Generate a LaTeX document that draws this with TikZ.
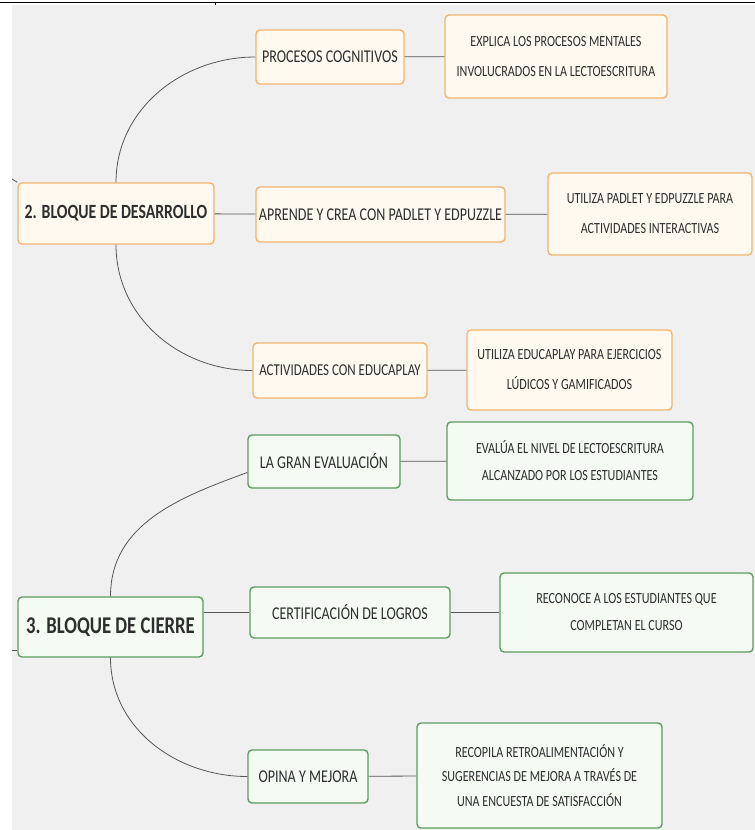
\documentclass[tikz,border=0pt]{standalone}
\usepackage{fontspec}
\setmainfont[FakeStretch=0.78]{Carlito}
\usepackage{tikz}
\usetikzlibrary{positioning}
\usepackage{xcolor}
\definecolor{fondomapa}{HTML}{F0F0F0}
\definecolor{naranja}{HTML}{F2B46E}
\definecolor{crema}{HTML}{FFF9EF}
\definecolor{verde}{HTML}{5E9B62}
\definecolor{verdeclaro}{HTML}{F3FBF3}
\definecolor{texto}{HTML}{2E2E2E}
\definecolor{lineagris}{HTML}{555555}

\begin{document}
\begin{tikzpicture}[x=1pt, y=-1pt,
    caja/.style={draw, rounded corners=4pt, line width=1.4pt, text=texto, align=center, inner sep=0pt},
    desarrollo/.style={caja, draw=naranja, fill=crema},
    cierre/.style={caja, draw=verde, fill=verdeclaro},
    raiz/.style={font=\bfseries\fontsize{20.2}{24}\selectfont},
    tema/.style={font=\fontsize{18}{22}\selectfont},
    detalle/.style={font=\fontsize{15.5}{30}\selectfont},
    detalleverde/.style={font=\fontsize{15.5}{27}\selectfont},
    enlace/.style={draw=lineagris, line width=0.8pt}]
    \useasboundingbox (0,0) rectangle (755,830);
    \fill[white] (0,0) rectangle (755,830);
    \fill[fondomapa] (12,5) rectangle (755,830);
    \draw[line width=1pt] (0,2.5) -- (755,2.5);
    \draw[line width=1pt] (215,2.5) -- (215,5);

    \node[desarrollo, raiz, minimum width=196, minimum height=61] (d2) at (116,213.5) {2. BLOQUE DE DESARROLLO};
    \node[desarrollo, tema, minimum width=148, minimum height=54] (pc) at (330,57) {PROCESOS COGNITIVOS};
    \node[desarrollo, detalle, minimum width=222, minimum height=83] (pcx) at (556,56.5) {EXPLICA LOS PROCESOS MENTALES\\INVOLUCRADOS EN LA LECTOESCRITURA};
    \node[desarrollo, tema, minimum width=249, minimum height=55] (apr) at (380.5,214.5) {APRENDE Y CREA CON PADLET Y EDPUZZLE};
    \node[desarrollo, detalle, minimum width=204, minimum height=82] (aprx) at (650,214) {UTILIZA PADLET Y EDPUZZLE PARA\\ACTIVIDADES INTERACTIVAS};
    \node[desarrollo, tema, font=\fontsize{16.6}{20}\selectfont, minimum width=174, minimum height=55] (act) at (340,370.5) {ACTIVIDADES CON EDUCAPLAY};
    \node[desarrollo, detalle, minimum width=205, minimum height=80] (actx) at (569.5,370) {UTILIZA EDUCAPLAY PARA EJERCICIOS\\LÚDICOS Y GAMIFICADOS};

    \node[cierre, raiz, font=\bfseries\fontsize{24}{28}\selectfont, minimum width=185, minimum height=60] (c3) at (110.5,627) {3. BLOQUE DE CIERRE};
    \node[cierre, tema, minimum width=152, minimum height=53] (eva) at (324,461.5) {LA GRAN EVALUACIÓN};
    \node[cierre, detalleverde, minimum width=246, minimum height=78] (evax) at (570,461) {EVALÚA EL NIVEL DE LECTOESCRITURA\\ALCANZADO POR LOS ESTUDIANTES};
    \node[cierre, tema, minimum width=200, minimum height=51] (cer) at (350,612.5) {CERTIFICACIÓN DE LOGROS};
    \node[cierre, detalleverde, minimum width=253, minimum height=79] (cerx) at (626.5,612.5) {RECONOCE A LOS ESTUDIANTES QUE\\COMPLETAN EL CURSO};
    \node[cierre, tema, minimum width=120, minimum height=53] (opi) at (308,776.5) {OPINA Y MEJORA};
    \node[cierre, detalleverde, font=\fontsize{15.5}{24.5}\selectfont, minimum width=245, minimum height=105] (opix) at (539.5,775.5) {RECOPILA RETROALIMENTACIÓN Y\\SUGERENCIAS DE MEJORA A TRAVÉS DE\\UNA ENCUESTA DE SATISFACCIÓN};

    \coordinate (entrada2) at (12,179);
    \coordinate (entrada3) at (12,650);
    \draw[enlace] (entrada2) -- (d2.north west);
    \draw[enlace] (entrada3) -- (entrada3 -| c3.west);

    \draw[enlace] (d2.north) to[out=90, in=180] (pc.west);
    \draw[enlace] (d2) -- (apr);
    \draw[enlace] (d2.south) to[out=-90, in=180] (act.west);
    \draw[enlace] (pc) -- (pcx);
    \draw[enlace] (apr) -- (aprx);
    \draw[enlace] (act) -- (actx);

    \draw[enlace] (c3.north) to[out=90, in=200] ([yshift=-11pt]eva.west);
    \draw[enlace] (c3.east |- cer.west) -- (cer.west);
    \draw[enlace] (c3.south) to[out=-90, in=180] (opi.west);
    \draw[enlace] (eva) -- (evax);
    \draw[enlace] (cer) -- (cerx);
    \draw[enlace] (opi) -- (opix);
\end{tikzpicture}
\end{document}
